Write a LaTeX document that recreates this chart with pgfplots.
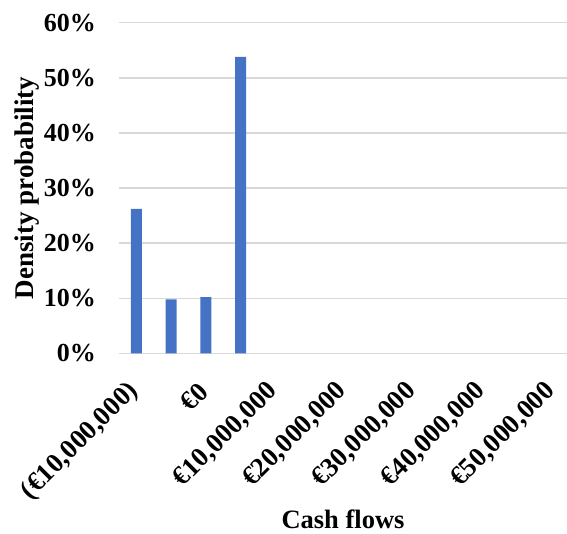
\documentclass[border=0pt]{standalone}
\usepackage{fontspec}
\setmainfont{Liberation Serif}
\usepackage{pgfplots}
\pgfplotsset{compat=1.18}
\definecolor{barblue}{HTML}{4472C4}
\definecolor{gridgray}{HTML}{D9D9D9}

% density of cash flows, x in millions of euro
\pgfplotstableread{
x    p
-10  26.2
-5   9.8
0    10.2
5    53.8
}\cashflows

\begin{document}
\begin{tikzpicture}
\path[use as bounding box] (0,0) rectangle (567pt,533pt);
\begin{axis}[
    at={(119pt,179.7pt)}, anchor=south west,
    scale only axis,
    width=448pt, height=330.6pt,
    xmin=-12.52, xmax=52, ymin=0, ymax=60,
    axis line style={draw=none},
    ymajorgrids, major grid style={gridgray, line width=1.4pt},
    major tick length=0pt, tick style={draw=none},
    ytick={0,10,...,60},
    yticklabels={0\%,10\%,20\%,30\%,40\%,50\%,60\%},
    yticklabel style={font=\fontsize{26}{30}\selectfont\bfseries, inner sep=0pt, xshift=-23pt},
    xtick={-10,0,10,20,30,40,50},
    xticklabels={{(€10,000,000)},{€0},{€10,000,000},{€20,000,000},{€30,000,000},{€40,000,000},{€50,000,000}},
    xticklabel style={font=\fontsize{27}{31}\selectfont\bfseries, inner sep=0pt, xshift=-2pt, yshift=-34pt, rotate=45, anchor=east},
    xlabel={Cash flows},
    xlabel style={font=\fontsize{26.5}{30}\selectfont\bfseries, at={(axis description cs:0.5,0)}, anchor=base, yshift=-174.7pt},
    ylabel={Density probability},
    ylabel style={font=\fontsize{27}{31}\selectfont\bfseries, at={(axis description cs:0,0.5)}, anchor=south, inner sep=0pt, yshift=79pt},
]
\addplot[ybar, bar width=11pt, fill=barblue, draw=none] table[x=x, y=p] {\cashflows};
\end{axis}
\end{tikzpicture}
\end{document}
